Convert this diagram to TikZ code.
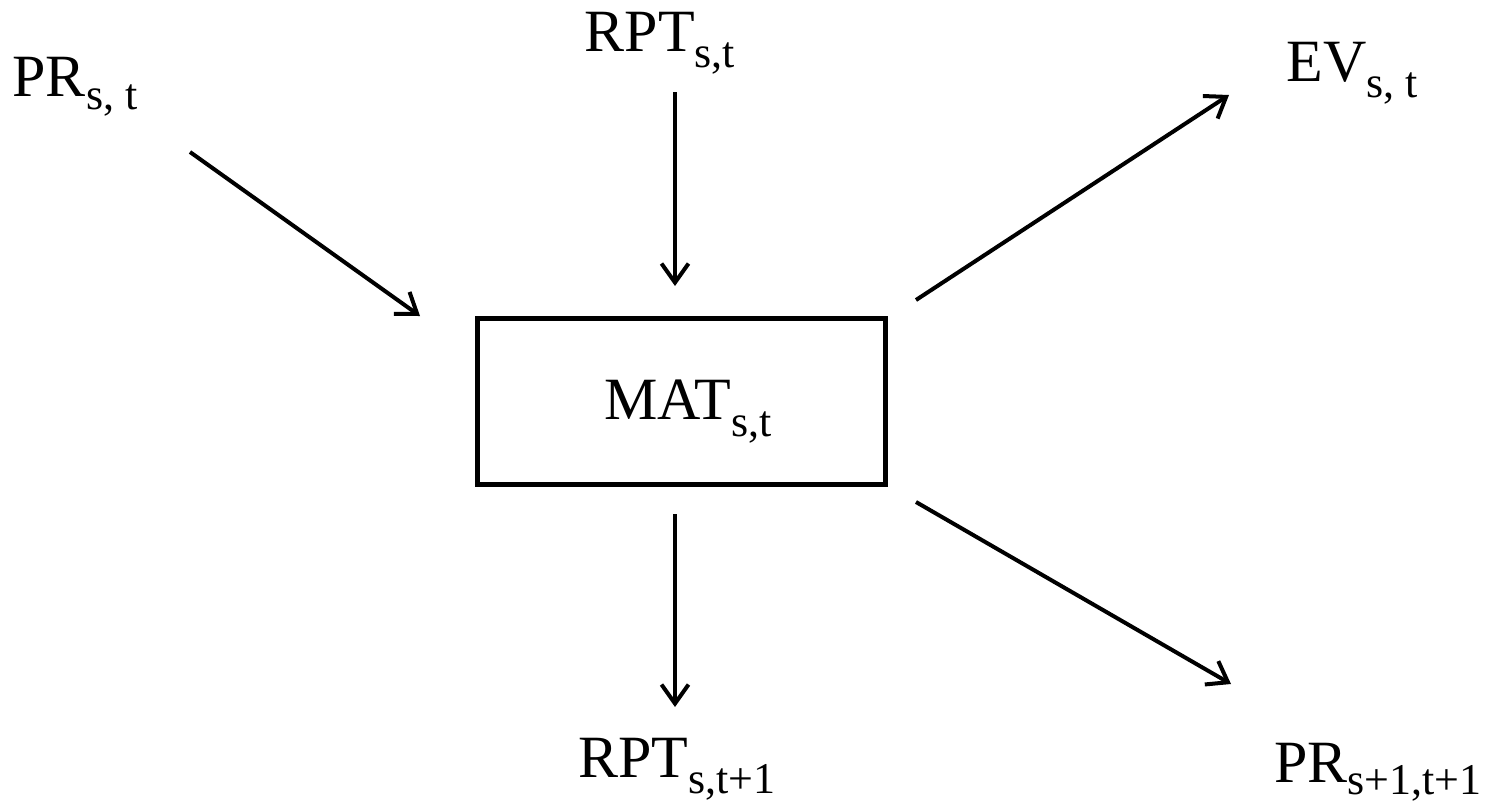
\documentclass[tikz,border=0pt]{standalone}
\usepackage{fontspec}
\setmainfont{Liberation Serif}
\usetikzlibrary{arrows.meta}
\newcommand{\biglbl}[3]{{\fontsize{60}{64}\selectfont #1\raisebox{-#3pt}{\fontsize{44}{46}\selectfont #2}}}
\tikzset{
  lbl/.style={anchor=base, inner sep=0pt, outer sep=0pt},
  flow/.style={line width=4pt, -{Straight Barb[length=19pt, width=27pt, line width=4pt]}},
  matbox/.style={draw, line width=5pt, minimum width=408pt, minimum height=166pt, inner sep=0pt}
}
\begin{document}
\begin{tikzpicture}[x=1pt, y=-1pt]
\useasboundingbox (0,0) rectangle (1489,803);
% box
\node[matbox] (box) at (681.5,401.5) {};
\node[lbl] (mat) at (688,419) {\biglbl{MAT}{s,t}{17}};
% labels
\node[lbl] (prst) at (75,96) {\biglbl{PR}{s, t}{13}};
\node[lbl] (rptst) at (660,51) {\biglbl{RPT}{s,t}{17}};
\node[lbl] (evst) at (1352,81) {\biglbl{EV}{s, t}{17}};
\node[lbl] (rptst1) at (677,777) {\biglbl{RPT}{s,t+1}{16}};
\node[lbl] (prs1t1) at (1378,782) {\biglbl{PR}{s+1,t+1}{12}};
% connector end points
\coordinate (a1s) at (190,152);
\coordinate (a1e) at (420,316);
\coordinate (a2s) at (675,92);
\coordinate (a2e) at (675,286);
\coordinate (a3s) at (916,300);
\coordinate (a3e) at (1229,95);
\coordinate (a4s) at (675,514);
\coordinate (a4e) at (675,707);
\coordinate (a5s) at (916,502);
\coordinate (a5e) at (1231,684);
\draw[flow] (a1s) -- (a1e);
\draw[flow] (a2s) -- (a2e);
\draw[flow] (a3s) -- (a3e);
\draw[flow] (a4s) -- (a4e);
\draw[flow] (a5s) -- (a5e);
\end{tikzpicture}
\end{document}
